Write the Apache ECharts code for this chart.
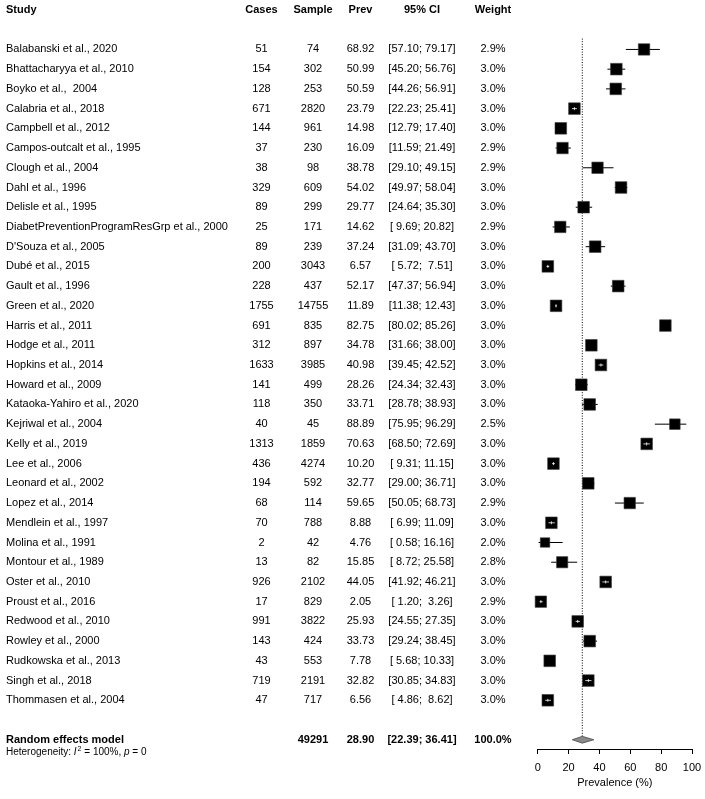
<!DOCTYPE html>
<html><head><meta charset="utf-8">
<script src="https://cdn.jsdelivr.net/npm/echarts@6/dist/echarts.min.js"></script>
<style>html,body{margin:0;padding:0;background:#fff}#c{width:705px;height:799px}</style>
</head><body><div id="c"></div>
<script>
const studies = ["Balabanski et al., 2020","Bhattacharyya et al., 2010","Boyko et al.,  2004","Calabria et al., 2018","Campbell et al., 2012","Campos-outcalt et al., 1995","Clough et al., 2004","Dahl et al., 1996","Delisle et al., 1995","DiabetPreventionProgramResGrp et al., 2000","D'Souza et al., 2005","Dubé et al., 2015","Gault et al., 1996","Green et al., 2020","Harris et al., 2011","Hodge et al., 2011","Hopkins et al., 2014","Howard et al., 2009","Kataoka-Yahiro et al., 2020","Kejriwal et al., 2004","Kelly et al., 2019","Lee et al., 2006","Leonard et al., 2002","Lopez et al., 2014","Mendlein et al., 1997","Molina et al., 1991","Montour et al., 1989","Oster et al., 2010","Proust et al., 2016","Redwood et al., 2010","Rowley et al., 2000","Rudkowska et al., 2013","Singh et al., 2018","Thommasen et al., 2004"];
const cases = [51,154,128,671,144,37,38,329,89,25,89,200,228,1755,691,312,1633,141,118,40,1313,436,194,68,70,2,13,926,17,991,143,43,719,47];
const samples = [74,302,253,2820,961,230,98,609,299,171,239,3043,437,14755,835,897,3985,499,350,45,1859,4274,592,114,788,42,82,2102,829,3822,424,553,2191,717];
const prev = [68.92,50.99,50.59,23.79,14.98,16.09,38.78,54.02,29.77,14.62,37.24,6.57,52.17,11.89,82.75,34.78,40.98,28.26,33.71,88.89,70.63,10.20,32.77,59.65,8.88,4.76,15.85,44.05,2.05,25.93,33.73,7.78,32.82,6.56];
const ciLower = [57.10,45.20,44.26,22.23,12.79,11.59,29.10,49.97,24.64,9.69,31.09,5.72,47.37,11.38,80.02,31.66,39.45,24.34,28.78,75.95,68.50,9.31,29.00,50.05,6.99,0.58,8.72,41.92,1.20,24.55,29.24,5.68,30.85,4.86];
const ciUpper = [79.17,56.76,56.91,25.41,17.40,21.49,49.15,58.04,35.30,20.82,43.70,7.51,56.94,12.43,85.26,38.00,42.52,32.43,38.93,96.29,72.69,11.15,36.71,68.73,11.09,16.16,25.58,46.21,3.26,27.35,38.45,10.33,34.83,8.62];
const weights = [2.9,3.0,3.0,3.0,3.0,2.9,2.9,3.0,3.0,2.9,3.0,3.0,3.0,3.0,3.0,3.0,3.0,3.0,3.0,2.5,3.0,3.0,3.0,2.9,3.0,2.0,2.8,3.0,2.9,3.0,3.0,3.0,3.0,3.0];
const headers = ["Study","Cases","Sample","Prev","95% CI","Weight"];
const pooledLabel = "Random effects model";
const pooledSample = 49291;
const pooledPrev = 28.90;
const pooledLower = 22.39;
const pooledUpper = 36.41;
const pooledWeight = 100.0;
const heterogeneity = {I2: "100%", p: "0"};
const axisName = "Prevalence (%)";
const axisMin = 0, axisMax = 100, axisStep = 20;

// ---- layout (not data) ----
const FONT = '"Liberation Sans", Arial, Helvetica, sans-serif';
const COL = {study:6, cases:261.5, sample:313, prev:360.5, ci:422, weight:493};
const ROW_MAX = 37.47;
const STUDY_ROW0 = 2, POOLED_ROW = 37, HET_ROW = 37.62, REF_TOP_ROW = 1.45;

function fmt2(v){ const s = v.toFixed(2); return s.length < 5 ? ' ' + s : s; }
function ciStr(l,u){ return '[' + fmt2(l) + '; ' + fmt2(u) + ']'; }

const tableData = [[0, 0, 0, 0]];
studies.forEach((s,i)=> tableData.push([0, STUDY_ROW0 + i, 1, i]));
tableData.push([0, POOLED_ROW, 2, 0]);
tableData.push([0, HET_ROW, 3, 0]);

function T(x, y, s, align, bold, size){
  return {type:'text', x:x, y:y, style:{text:s, align:align, verticalAlign:'middle', fontFamily:FONT, fontSize:size||11, fontWeight: bold ? 'bold' : 'normal', fill:'#000'}};
}

function renderTable(params, api){
  const row = api.value(1), kind = api.value(2), i = api.value(3);
  const y = api.coord([0, row])[1];
  const X = k => api.coord([COL[k], row])[0];
  const ch = [];
  if (kind === 0) {
    ch.push(T(X('study'), y, headers[0], 'left', true));
    ch.push(T(X('cases'), y, headers[1], 'center', true));
    ch.push(T(X('sample'), y, headers[2], 'center', true));
    ch.push(T(X('prev'), y, headers[3], 'center', true));
    ch.push(T(X('ci'), y, headers[4], 'center', true));
    ch.push(T(X('weight'), y, headers[5], 'center', true));
  } else if (kind === 1) {
    ch.push(T(X('study'), y, studies[i], 'left', false));
    ch.push(T(X('cases'), y, String(cases[i]), 'center', false));
    ch.push(T(X('sample'), y, String(samples[i]), 'center', false));
    ch.push(T(X('prev'), y, prev[i].toFixed(2), 'center', false));
    ch.push(T(X('ci'), y, ciStr(ciLower[i], ciUpper[i]), 'center', false));
    ch.push(T(X('weight'), y, weights[i].toFixed(1) + '%', 'center', false));
  } else if (kind === 2) {
    ch.push(T(X('study'), y, pooledLabel, 'left', true));
    ch.push(T(X('sample'), y, String(pooledSample), 'center', true));
    ch.push(T(X('prev'), y, pooledPrev.toFixed(2), 'center', true));
    ch.push(T(X('ci'), y, ciStr(pooledLower, pooledUpper), 'center', true));
    ch.push(T(X('weight'), y, pooledWeight.toFixed(1) + '%', 'center', true));
  } else {
    ch.push({type:'text', x:X('study'), y:y, style:{
      text:'{a|Heterogeneity: }{i|I}{s|2}{a| = ' + heterogeneity.I2 + ', }{i|p}{a| = ' + heterogeneity.p + '}',
      align:'left', verticalAlign:'middle', fill:'#000', fontFamily:FONT, fontSize:10,
      rich:{
        a:{fontFamily:FONT, fontSize:10, fill:'#000', lineHeight:12},
        i:{fontFamily:FONT, fontSize:10, fontStyle:'italic', fill:'#000', lineHeight:12},
        s:{fontFamily:FONT, fontSize:7, fill:'#000', lineHeight:12, verticalAlign:'top', padding:[0,0,4,1]}
      }}});
  }
  return {type:'group', children: ch};
}

const forestData = prev.map((p,i)=>[p, ciLower[i], ciUpper[i], STUDY_ROW0 + i, weights[i]]);
const maxW = Math.max.apply(null, weights);

function renderStudy(params, api){
  const est = api.coord([api.value(0), api.value(3)]);
  const lo = api.coord([api.value(1), api.value(3)]);
  const hi = api.coord([api.value(2), api.value(3)]);
  const side = 11.6 * Math.sqrt(api.value(4) / maxW);
  const y = est[1];
  const inside = (est[0] - lo[0]) < 3.55 && (hi[0] - est[0]) < 3.55;
  const ch = [];
  ch.push({type:'line', shape:{x1:lo[0], y1:y, x2:hi[0], y2:y}, style:{stroke:'#000', lineWidth:1}});
  ch.push({type:'rect', shape:{x:est[0]-side/2, y:y-side/2, width:side, height:side}, style:{fill:'#000', stroke:'#3a3a3a', lineWidth:0.6}});
  if (inside) {
    ch.push({type:'line', shape:{x1:lo[0], y1:y, x2:hi[0], y2:y}, style:{stroke:'#fff', lineWidth:0.8}});
    ch.push({type:'line', shape:{x1:est[0], y1:y-1.5, x2:est[0], y2:y+1.5}, style:{stroke:'#fff', lineWidth:0.8}});
  }
  return {type:'group', children: ch};
}

function renderPooled(params, api){
  const row = api.value(3);
  const c = api.coord([api.value(0), row]);
  const l = api.coord([api.value(1), row]);
  const r = api.coord([api.value(2), row]);
  const top = api.coord([api.value(0), REF_TOP_ROW]);
  const h = 3.4;
  return {type:'group', children:[
    {type:'line', shape:{x1:c[0], y1:top[1], x2:c[0], y2:c[1]-h}, style:{stroke:'#000', lineWidth:1, lineDash:[1,1.6]}},
    {type:'polygon', shape:{points:[[l[0],c[1]],[c[0],c[1]-h],[r[0],c[1]],[c[0],c[1]+h]]}, style:{fill:'#8a8a8a', stroke:'#4a4a4a', lineWidth:0.8}}
  ]};
}

const chart = echarts.init(document.getElementById('c'), null, {renderer:'canvas'});
chart.setOption({
  animation:false,
  backgroundColor:'#fff',
  grid:[
    {left:0, top:10, width:705, height:739},
    {left:537.7, top:10, width:154.3, height:739}
  ],
  xAxis:[
    {gridIndex:0, type:'value', min:0, max:705, show:false},
    {gridIndex:1, type:'value', min:axisMin, max:axisMax, interval:axisStep, position:'bottom',
     axisLine:{show:true, onZero:false, lineStyle:{color:'#000', width:1}},
     axisTick:{show:true, inside:false, length:5, lineStyle:{color:'#000', width:1}},
     axisLabel:{fontFamily:FONT, fontSize:11, color:'#000', margin:13},
     splitLine:{show:false},
     name:axisName, nameLocation:'middle', nameGap:25,
     nameTextStyle:{fontFamily:FONT, fontSize:11, color:'#000'}}
  ],
  yAxis:[
    {gridIndex:0, type:'value', min:0, max:ROW_MAX, inverse:true, show:false, splitLine:{show:false}},
    {gridIndex:1, type:'value', min:0, max:ROW_MAX, inverse:true, show:false, splitLine:{show:false}}
  ],
  series:[
    {type:'custom', xAxisIndex:0, yAxisIndex:0, data:tableData, renderItem:renderTable, encode:{x:0, y:1}, clip:false, silent:true},
    {type:'custom', xAxisIndex:1, yAxisIndex:1, data:[[pooledPrev, pooledLower, pooledUpper, POOLED_ROW]], renderItem:renderPooled, encode:{x:[0,1,2], y:3}, clip:false, silent:true},
    {type:'custom', xAxisIndex:1, yAxisIndex:1, data:forestData, renderItem:renderStudy, encode:{x:[0,1,2], y:3}, clip:false, silent:true}
  ]
});
</script>
</body></html>
